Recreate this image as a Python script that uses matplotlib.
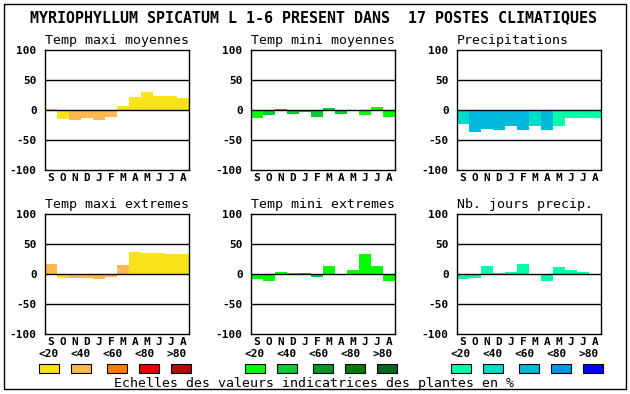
import matplotlib
matplotlib.use('Agg')
import matplotlib.pyplot as plt
from matplotlib.patches import Rectangle

plt.rcParams['font.family'] = ['DejaVu Sans Mono']

# ---- données ----
mois = ['S', 'O', 'N', 'D', 'J', 'F', 'M', 'A', 'M', 'J', 'J', 'A']
classes = ['<20', '<40', '<60', '<80', '>80']

titre = 'MYRIOPHYLLUM SPICATUM L 1-6 PRESENT DANS  17 POSTES CLIMATIQUES'
titres = ['Temp maxi moyennes', 'Temp mini moyennes', 'Precipitations',
          'Temp maxi extremes', 'Temp mini extremes', 'Nb. jours precip.']
pied = 'Echelles des valeurs indicatrices des plantes en %'

tmax_moy = [2, -15, -16, -13, -16, -11, 7, 22, 30, 23, 23, 20]
tmax_moy_cl = [0, 0, 1, 1, 1, 1, 0, 0, 0, 0, 0, 0]

tmin_moy = [-14, -8, 2, -6, -4, -11, 3.5, -6, 0, -8, 5, -12]
tmin_moy_cl = [0, 1, 1, 1, 1, 1, 1, 1, 0, 0, 0, 0]

precip = [-24, -36, -31, -34, -26, -33, -26, -33, -26, -14, -14, -14]
precip_cl = [1, 2, 2, 2, 2, 2, 1, 2, 0, 0, 0, 0]

tmax_ext = [17, -6, -6, -6, -8, -5, 15, 37, 35, 35, 34, 34]
tmax_ext_cl = [1, 0, 1, 1, 1, 1, 1, 0, 0, 0, 0, 0]

tmin_ext = [-8, -11, 3, 1.5, 1.5, -4.5, 13, 0, 7, 33, 13, -12]
tmin_ext_cl = [0, 0, 0, 0, 1, 1, 0, 0, 0, 0, 0, 0]

nb_jours = [-8, -6, 13, 1.5, 3, 17, 0, -11, 12, 7, 3, 0]
nb_jours_cl = [0, 0, 0, 0, 0, 0, 0, 0, 0, 0, 0, 0]

# palettes des échelles
pal_chaud = ['#f8e21a', '#ffb84f', '#ff7d00', '#e80000', '#ae0e00']
pal_vert = ['#00ff00', '#00cc33', '#009628', '#007d00', '#00661e']
pal_bleu = ['#00ffaa', '#00dcc8', '#00b8dc', '#0096e6', '#0000ff']

series = [(tmax_moy, tmax_moy_cl, pal_chaud), (tmin_moy, tmin_moy_cl, pal_vert),
          (precip, precip_cl, pal_bleu), (tmax_ext, tmax_ext_cl, pal_chaud),
          (tmin_ext, tmin_ext_cl, pal_vert), (nb_jours, nb_jours_cl, pal_bleu)]

# ---- mise en page en pixels ----
W, H = 630, 394
fig = plt.figure(figsize=(W / 100, H / 100), dpi=100)
fig.patch.set_facecolor('white')


def fx(x):
    return x / W


def fy(y):
    return 1 - y / H


col_x = [45, 251, 457]
row_y = [50, 214]
aw, ah = 144, 120

# cadre extérieur
fig.add_artist(Rectangle((fx(4), fy(389)), 622 / W, 385 / H, transform=fig.transFigure,
                         fill=False, edgecolor='black', lw=1.0))

fig.text(fx(314), fy(18), titre, ha='center', va='center', fontsize=10.8, fontweight='bold')

for i, (vals, cl, pal) in enumerate(series):
    x0 = col_x[i % 3]
    y0 = row_y[i // 3]
    ax = fig.add_axes([fx(x0), fy(y0 + ah), aw / W, ah / H])
    ax.bar(range(12), vals, width=1.0, color=[pal[c] for c in cl], zorder=1)
    for g in (-50, 0, 50):
        ax.axhline(g, color='black', lw=1.0, zorder=2)
    ax.set_xlim(-0.5, 11.5)
    ax.set_ylim(-100, 100)
    ax.set_xticks(range(12))
    ax.set_xticklabels(mois, fontweight='bold', fontsize=8)
    ax.set_yticks([-100, -50, 0, 50, 100])
    ax.set_yticklabels(['-100', '-50', '0', '50', '100'], fontweight='bold', fontsize=8)
    ax.tick_params(length=0)
    ax.tick_params(axis='y', pad=6)
    ax.tick_params(axis='x', pad=2)
    for s in ax.spines.values():
        s.set_linewidth(1.0)
    ax.set_title(titres[i], loc='left', fontsize=9.5, pad=4)

    # légende des échelles sous la rangée du bas
    if i >= 3:
        for k in range(5):
            lx = x0 + 4 + 32 * k
            fig.text(fx(lx), fy(354), classes[k], ha='center', va='center',
                     fontsize=8, fontweight='bold')
            sx = x0 + 4 + 32 * k + (4 if k >= 2 else 0)
            fig.add_artist(Rectangle((fx(sx - 10), fy(373)), 20 / W, 9 / H,
                                     transform=fig.transFigure, facecolor=pal[k],
                                     edgecolor='black', lw=0.8))

fig.text(fx(314), fy(383), pied, ha='center', va='center', fontsize=9.5)

fig.savefig('out.png', dpi=100)
